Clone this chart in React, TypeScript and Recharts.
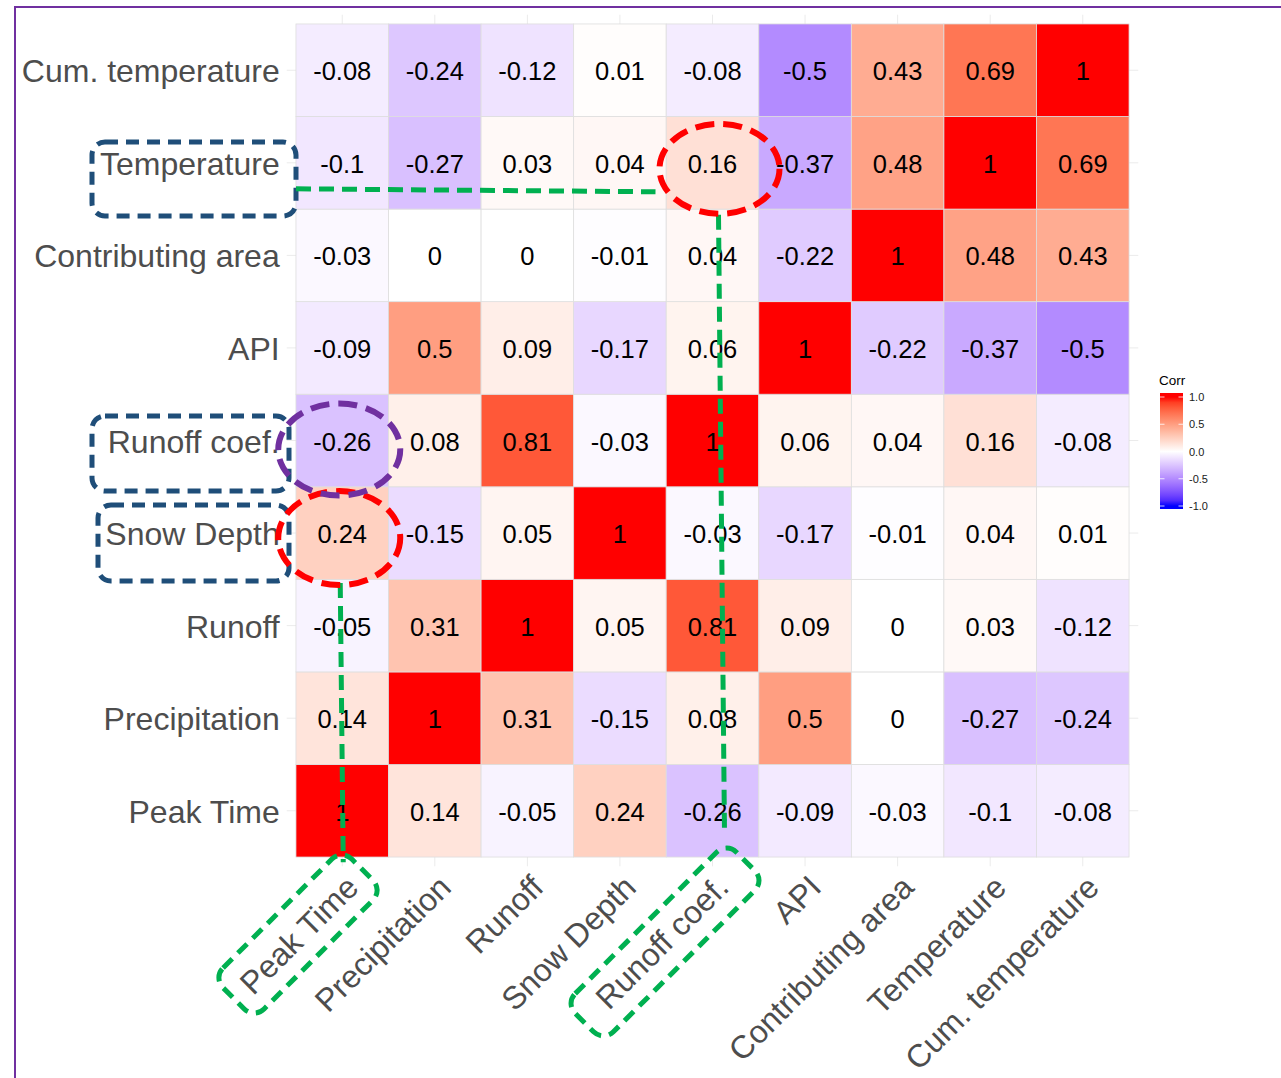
import React from 'react';
import { ScatterChart, Scatter, XAxis, YAxis, CartesianGrid } from 'recharts';

// variable order, bottom-to-top on y and left-to-right on x
const VARS = [
  'Peak Time',
  'Precipitation',
  'Runoff',
  'Snow Depth',
  'Runoff coef.',
  'API',
  'Contributing area',
  'Temperature',
  'Cum. temperature',
];

// correlation rows, listed from the top row (Cum. temperature) down to Peak Time
const ROW_CUM_TEMP = [-0.08, -0.24, -0.12, 0.01, -0.08, -0.5, 0.43, 0.69, 1];
const ROW_TEMP = [-0.1, -0.27, 0.03, 0.04, 0.16, -0.37, 0.48, 1, 0.69];
const ROW_AREA = [-0.03, 0, 0, -0.01, 0.04, -0.22, 1, 0.48, 0.43];
const ROW_API = [-0.09, 0.5, 0.09, -0.17, 0.06, 1, -0.22, -0.37, -0.5];
const ROW_RUNOFF_COEF = [-0.26, 0.08, 0.81, -0.03, 1, 0.06, 0.04, 0.16, -0.08];
const ROW_SNOW = [0.24, -0.15, 0.05, 1, -0.03, -0.17, -0.01, 0.04, 0.01];
const ROW_RUNOFF = [-0.05, 0.31, 1, 0.05, 0.81, 0.09, 0, 0.03, -0.12];
const ROW_PRECIP = [0.14, 1, 0.31, -0.15, 0.08, 0.5, 0, -0.27, -0.24];
const ROW_PEAK = [1, 0.14, -0.05, 0.24, -0.26, -0.09, -0.03, -0.1, -0.08];

const LEGEND_TICKS = [1, 0.5, 0, -0.5, -1];

// y index 0 = Peak Time (bottom)
const ROWS = [
  ROW_PEAK,
  ROW_PRECIP,
  ROW_RUNOFF,
  ROW_SNOW,
  ROW_RUNOFF_COEF,
  ROW_API,
  ROW_AREA,
  ROW_TEMP,
  ROW_CUM_TEMP,
];

const cells = ROWS.flatMap((row, y) => row.map((r, x) => ({ x, y, r })));
const TICKS = VARS.map((_, i) => i);

// layout
const W = 1281;
const H = 1078;
const Y_AXIS_W = 286.7;
const MARGIN_TOP = 14.7;
const MARGIN_RIGHT = 142.7;
const X_AXIS_H = 211.7;
const PLOT_W = W - Y_AXIS_W - MARGIN_RIGHT;
const UNIT = PLOT_W / 9.2;
const PLOT_BOTTOM = H - X_AXIS_H;

// cell centre helpers for the overlay drawing
const colX = (i: number) => Y_AXIS_W + (i + 0.6) * UNIT;
const rowY = (j: number) => PLOT_BOTTOM - (j + 0.6) * UNIT;

// ggplot-style diverging blue-white-red, interpolated in Lab
const LAB_LOW = [32.297, 79.1875, -107.8602];
const LAB_MID = [100, 0, 0];
const LAB_HIGH = [53.2408, 80.0925, 67.2032];

function labToHex(L: number, a: number, b: number) {
  const fy = (L + 16) / 116;
  const fx = fy + a / 500;
  const fz = fy - b / 200;
  const inv = (t: number) => (t ** 3 > 0.008856 ? t ** 3 : (t - 16 / 116) / 7.787);
  const X = 0.95047 * inv(fx);
  const Y = 1.0 * inv(fy);
  const Z = 1.08883 * inv(fz);
  const lin = [
    3.2404542 * X - 1.5371385 * Y - 0.4985314 * Z,
    -0.969266 * X + 1.8760108 * Y + 0.041556 * Z,
    0.0556434 * X - 0.2040259 * Y + 1.0572252 * Z,
  ];
  return (
    '#' +
    lin
      .map((v) => {
        const g = v <= 0.0031308 ? 12.92 * v : 1.055 * Math.pow(v, 1 / 2.4) - 0.055;
        const c = Math.round(Math.min(1, Math.max(0, g)) * 255);
        return c.toString(16).padStart(2, '0');
      })
      .join('')
  );
}

function corrColor(r: number) {
  const t = Math.abs(r);
  const end = r >= 0 ? LAB_HIGH : LAB_LOW;
  const lab = LAB_MID.map((m, k) => m + (end[k] - m) * t);
  return labToHex(lab[0], lab[1], lab[2]);
}

const FONT = 'Arial, "Liberation Sans", sans-serif';
const LABEL_SIZE = 32;

const Tile = (props: any) => {
  const { cx, cy, payload } = props;
  if (cx == null || cy == null) return null;
  return (
    <g>
      <rect
        x={cx - UNIT / 2}
        y={cy - UNIT / 2}
        width={UNIT}
        height={UNIT}
        fill={corrColor(payload.r)}
        stroke="#dedede"
        strokeWidth={0.8}
      />
      <text
        x={cx}
        y={cy + 1}
        textAnchor="middle"
        dominantBaseline="central"
        fontSize={25.5}
        fontFamily={FONT}
        fill="#000"
      >
        {String(payload.r)}
      </text>
    </g>
  );
};

const YTick = (props: any) => {
  const { y, payload } = props;
  return (
    <text
      x={Y_AXIS_W - 7}
      y={y + 1}
      textAnchor="end"
      dominantBaseline="central"
      fontSize={LABEL_SIZE}
      fontFamily={FONT}
      fill="#4d4d4d"
    >
      {VARS[payload.value]}
    </text>
  );
};

const XTick = (props: any) => {
  const { x, payload } = props;
  const ax = x + 18;
  const ay = PLOT_BOTTOM + 23;
  return (
    <text
      x={ax}
      y={ay}
      textAnchor="end"
      fontSize={LABEL_SIZE}
      fontFamily={FONT}
      fill="#4d4d4d"
      transform={`rotate(-45 ${ax} ${ay})`}
    >
      {VARS[payload.value]}
    </text>
  );
};

// grid lines only at the category positions
const gridX = () => TICKS.map((t) => colX(t));
const gridY = () => TICKS.map((t) => rowY(t));

const BLUE = '#1f4e79';
const RED = '#ff0000';
const PURPLE = '#7030a0';
const GREEN = '#00b050';

function Legend() {
  const barX = 1160;
  const barTop = 393;
  const barH = 116;
  const barW = 23;
  const vTop = 397;
  const vBot = 506;
  const valY = (v: number) => vTop + ((1 - v) / 2) * (vBot - vTop);
  const stops = Array.from({ length: 21 }, (_, k) => 1 - k * 0.1);
  return (
    <g fontFamily={FONT}>
      <defs>
        <linearGradient id="corrbar" x1="0" y1={barTop} x2="0" y2={barTop + barH} gradientUnits="userSpaceOnUse">
          {stops.map((v) => (
            <stop key={v} offset={(valY(v) - barTop) / barH} stopColor={corrColor(v)} />
          ))}
        </linearGradient>
      </defs>
      <text x={1159} y={385} fontSize={13.5} fill="#000">
        Corr
      </text>
      <rect x={barX} y={barTop} width={barW} height={barH} fill="url(#corrbar)" />
      {LEGEND_TICKS.map((v) => (
        <g key={v}>
          <line x1={barX} x2={barX + 4.5} y1={valY(v)} y2={valY(v)} stroke="#fff" strokeOpacity={0.8} />
          <line x1={barX + barW - 4.5} x2={barX + barW} y1={valY(v)} y2={valY(v)} stroke="#fff" strokeOpacity={0.8} />
          <text x={1189} y={valY(v)} dominantBaseline="central" fontSize={11} fill="#1a1a1a">
            {v.toFixed(1)}
          </text>
        </g>
      ))}
    </g>
  );
}

function Marks() {
  const dashBox = '13 8';
  const dashRing = '19 9';
  const dashLine = '15 8';
  const tempY = rowY(7);
  const coefX = colX(4);
  const peakX = colX(0);
  return (
    <g fill="none" strokeWidth={5}>
      {/* highlighted y labels */}
      <rect x={92} y={142} width={204} height={74} rx={13} stroke={BLUE} strokeDasharray={dashBox} />
      <rect x={92} y={416} width={197} height={75} rx={13} stroke={BLUE} strokeDasharray={dashBox} />
      <rect x={98} y={505} width={191} height={76} rx={13} stroke={BLUE} strokeDasharray={dashBox} />

      {/* connectors */}
      <polyline points={`${296},${tempY + 26} ${coefX - 57},${tempY + 29}`} stroke={GREEN} strokeDasharray={dashLine} />
      <polyline points={`${coefX + 6},${tempY + 52} ${coefX + 12},${rowY(0) + 22}`} stroke={GREEN} strokeDasharray={dashLine} />
      <polyline points={`${peakX - 2},${rowY(3) + 50} ${peakX + 1},${PLOT_BOTTOM - 4}`} stroke={GREEN} strokeDasharray={dashLine} />

      {/* circled cells */}
      <ellipse cx={coefX + 7} cy={tempY + 6} rx={60} ry={45} stroke={RED} strokeWidth={6} strokeDasharray={dashRing} />
      <ellipse cx={peakX - 3} cy={rowY(3) + 5} rx={61} ry={47} stroke={RED} strokeWidth={6} strokeDasharray={dashRing} />
      <ellipse cx={peakX - 3} cy={rowY(4) + 9} rx={61} ry={46} stroke={PURPLE} strokeWidth={6} strokeDasharray={dashRing} />

      {/* highlighted x labels */}
      <rect
        x={-91}
        y={-29}
        width={182}
        height={58}
        rx={14}
        stroke={GREEN}
        strokeDasharray={dashBox}
        transform={`translate(298 934) rotate(-45)`}
      />
      <rect
        x={-114}
        y={-27}
        width={228}
        height={54}
        rx={14}
        stroke={GREEN}
        strokeDasharray={dashBox}
        transform={`translate(665 942) rotate(-45)`}
      />
    </g>
  );
}

export default function App() {
  return (
    <div style={{ position: 'absolute', left: 0, top: 0, width: W, height: H, background: '#fff', overflow: 'hidden' }}>
      <div
        style={{
          position: 'absolute',
          left: 14,
          top: 6,
          width: W,
          height: H,
          borderTop: `2px solid ${PURPLE}`,
          borderLeft: `2px solid ${PURPLE}`,
        }}
      />
      <div style={{ position: 'absolute', left: 0, top: 0 }}>
        <ScatterChart
          width={W}
          height={H}
          margin={{ top: MARGIN_TOP, right: MARGIN_RIGHT, bottom: 0, left: 0 }}
        >
          <CartesianGrid
            stroke="#ebebeb"
            strokeWidth={1}
            verticalCoordinatesGenerator={gridX}
            horizontalCoordinatesGenerator={gridY}
          />
          <XAxis
            type="number"
            dataKey="x"
            domain={[-0.6, 8.6]}
            ticks={TICKS}
            interval={0}
            height={X_AXIS_H}
            axisLine={false}
            tickLine={false}
            tick={<XTick />}
          />
          <YAxis
            type="number"
            dataKey="y"
            domain={[-0.6, 8.6]}
            ticks={TICKS}
            interval={0}
            width={Y_AXIS_W}
            axisLine={false}
            tickLine={false}
            tick={<YTick />}
          />
          <Scatter data={cells} shape={<Tile />} isAnimationActive={false} />
        </ScatterChart>
      </div>
      <svg width={W} height={H} style={{ position: 'absolute', left: 0, top: 0, pointerEvents: 'none' }}>
        <Legend />
        <Marks />
      </svg>
    </div>
  );
}
